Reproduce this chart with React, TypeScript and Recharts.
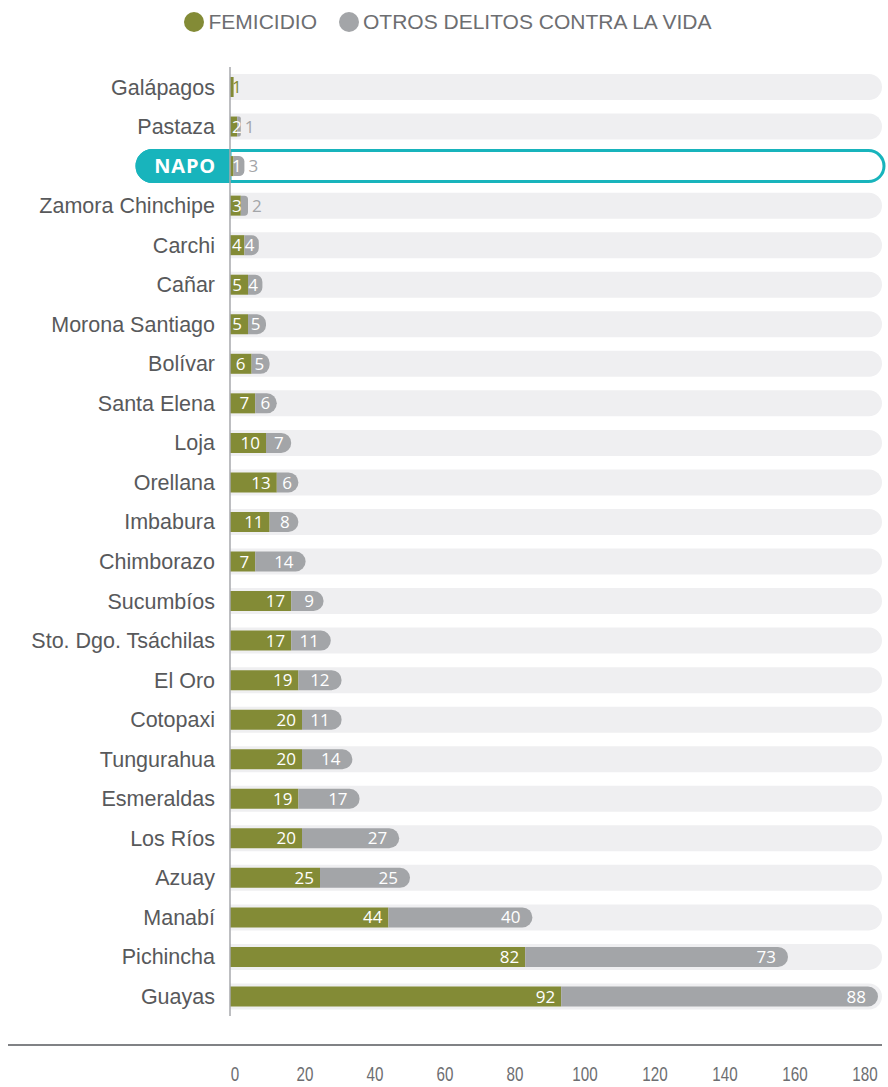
import React from "react";
import { BarChart, Bar, XAxis, YAxis, LabelList } from "recharts";

// provinces from top to bottom
const provinces = [
  "Galápagos",
  "Pastaza",
  "NAPO",
  "Zamora Chinchipe",
  "Carchi",
  "Cañar",
  "Morona Santiago",
  "Bolívar",
  "Santa Elena",
  "Loja",
  "Orellana",
  "Imbabura",
  "Chimborazo",
  "Sucumbíos",
  "Sto. Dgo. Tsáchilas",
  "El Oro",
  "Cotopaxi",
  "Tungurahua",
  "Esmeraldas",
  "Los Ríos",
  "Azuay",
  "Manabí",
  "Pichincha",
  "Guayas",
];
const femicidio = [1, 2, 1, 3, 4, 5, 5, 6, 7, 10, 13, 11, 7, 17, 17, 19, 20, 20, 19, 20, 25, 44, 82, 92];
const otrosDelitos = [0, 1, 3, 2, 4, 4, 5, 5, 6, 7, 6, 8, 14, 9, 11, 12, 11, 14, 17, 27, 25, 40, 73, 88];
const axisTicks = [0, 20, 40, 60, 80, 100, 120, 140, 160, 180];
const highlighted = "NAPO";

const GREEN = "#838b36";
const GRAY = "#a3a5a8";
const TRACK = "#efeff1";
const TEAL = "#18b4bc";
const LABEL = "#58595b";
const AXIS_TEXT = "#6d6e71";
const SANS = "'Liberation Sans', Arial, Helvetica, sans-serif";
const VALUE_FONT = "'Open Sans', 'Noto Sans', sans-serif";

const data = provinces.map((name, i) => ({
  name,
  femicidio: femicidio[i],
  otros: otrosDelitos[i],
}));

function rightRounded(x: number, y: number, w: number, h: number, r: number) {
  return `M${x},${y} H${x + w - r} A${r},${r} 0 0 1 ${x + w},${y + r} V${y + h - r} A${r},${r} 0 0 1 ${x + w - r},${y + h} H${x} Z`;
}

function leftRounded(x: number, y: number, w: number, h: number, r: number) {
  return `M${x + w},${y} H${x + r} A${r},${r} 0 0 0 ${x},${y + r} V${y + h - r} A${r},${r} 0 0 0 ${x + r},${y + h} H${x + w} Z`;
}

function Track(props: any) {
  const { x, y, width, height, index } = props;
  if (provinces[index] === highlighted) {
    const left = x - 93;
    const top = y - 5.5;
    const h = height + 11;
    return (
      <g>
        <rect x={left} y={top} width={x + width + 6 - left} height={h} rx={h / 2} fill="#fff" stroke={TEAL} strokeWidth={3} />
        <path d={leftRounded(left, top, x - left, h, h / 2)} fill={TEAL} stroke={TEAL} strokeWidth={3} />
        <text
          x={x - 14}
          y={top + h / 2}
          dy="0.36em"
          textAnchor="end"
          fill="#fff"
          fontSize={20}
          fontWeight={700}
          letterSpacing={0.8}
          fontFamily={VALUE_FONT}
        >
          {provinces[index]}
        </text>
      </g>
    );
  }
  return <path d={rightRounded(x, y - 3, width + 4, height + 6, (height + 6) / 2)} fill={TRACK} />;
}

function CategoryTick(props: any) {
  const { x, y, payload } = props;
  if (payload.value === highlighted) return <g />;
  return (
    <text x={x} y={y} dy="0.36em" textAnchor="end" fill={LABEL} fontSize={21.5} fontFamily={SANS}>
      {payload.value}
    </text>
  );
}

// narrow digits like the source's condensed face
function ValueTick(props: any) {
  const { x, y, payload } = props;
  return (
    <text
      transform={`translate(${x},${y}) scale(0.76,1)`}
      dy="0.7em"
      textAnchor="middle"
      fill={AXIS_TEXT}
      fontSize={20}
      fontFamily={SANS}
    >
      {payload.value}
    </text>
  );
}

function FemLabel(props: any) {
  const { x, y, width, height, value, index } = props;
  const cy = y + height / 2;
  const common = { y: cy, dy: "0.36em", fontSize: 17, fontFamily: VALUE_FONT };
  if (width >= 18) {
    return (
      <text x={x + width - 6} textAnchor="end" fill="#fff" {...common}>
        {value}
      </text>
    );
  }
  return (
    <text x={x + 2} textAnchor="start" fill={otrosDelitos[index] > 0 ? "#fff" : GREEN} {...common}>
      {value}
    </text>
  );
}

function OtrosLabel(props: any) {
  const { x, y, width, height, value } = props;
  if (!value) return null;
  const cy = y + height / 2;
  const common = { y: cy, dy: "0.36em", fontSize: 17, fontFamily: VALUE_FONT };
  if (width < 13) {
    return (
      <text x={x + width + 4} textAnchor="start" fill={GRAY} {...common}>
        {value}
      </text>
    );
  }
  const pad = Math.min(12, Math.max(4, width * 0.3));
  return (
    <text x={x + width - pad} textAnchor="end" fill="#fff" {...common}>
      {value}
    </text>
  );
}

export default function App() {
  return (
    <div style={{ position: "absolute", left: 0, top: 0, width: 888, height: 1087, background: "#fff" }}>
      <div
        style={{
          position: "absolute",
          top: 10,
          left: 0,
          width: 888,
          display: "flex",
          justifyContent: "center",
          alignItems: "center",
          fontFamily: SANS,
          fontSize: 21,
          color: AXIS_TEXT,
          paddingLeft: 8,
          boxSizing: "border-box",
        }}
      >
        <span style={{ width: 20, height: 20, borderRadius: 10, background: GREEN, marginRight: 4 }} />
        <span style={{ marginRight: 22 }}>FEMICIDIO</span>
        <span style={{ width: 20, height: 20, borderRadius: 10, background: GRAY, marginRight: 4 }} />
        <span>OTROS DELITOS CONTRA LA VIDA</span>
      </div>

      <BarChart
        width={888}
        height={1087}
        data={data}
        layout="vertical"
        barSize={20}
        margin={{ top: 67, right: 10, bottom: 41, left: 0 }}
      >
        <XAxis xAxisId="v" type="number" domain={[0, 180]} hide />
        <XAxis
          xAxisId="t"
          type="number"
          domain={[-1.43, 183.7]}
          allowDataOverflow
          ticks={axisTicks}
          interval={0}
          height={30}
          axisLine={false}
          tickLine={false}
          tickMargin={45}
          tick={<ValueTick />}
        />
        <YAxis
          type="category"
          dataKey="name"
          width={230}
          interval={0}
          tickLine={false}
          tickMargin={9}
          axisLine={{ stroke: "#a7a9ac", strokeWidth: 1.5 }}
          tick={<CategoryTick />}
        />
        <Bar
          xAxisId="v"
          dataKey="femicidio"
          stackId="a"
          fill={GREEN}
          background={Track}
          isAnimationActive={false}
        >
          <LabelList dataKey="femicidio" content={FemLabel} />
        </Bar>
        <Bar
          xAxisId="v"
          dataKey="otros"
          stackId="a"
          fill={GRAY}
          radius={[0, 10, 10, 0]}
          isAnimationActive={false}
        >
          <LabelList dataKey="otros" content={OtrosLabel} />
        </Bar>
      </BarChart>

      <div
        style={{
          position: "absolute",
          top: 1044,
          left: 8,
          width: 874,
          height: 1.5,
          background: "#808285",
        }}
      />
    </div>
  );
}
